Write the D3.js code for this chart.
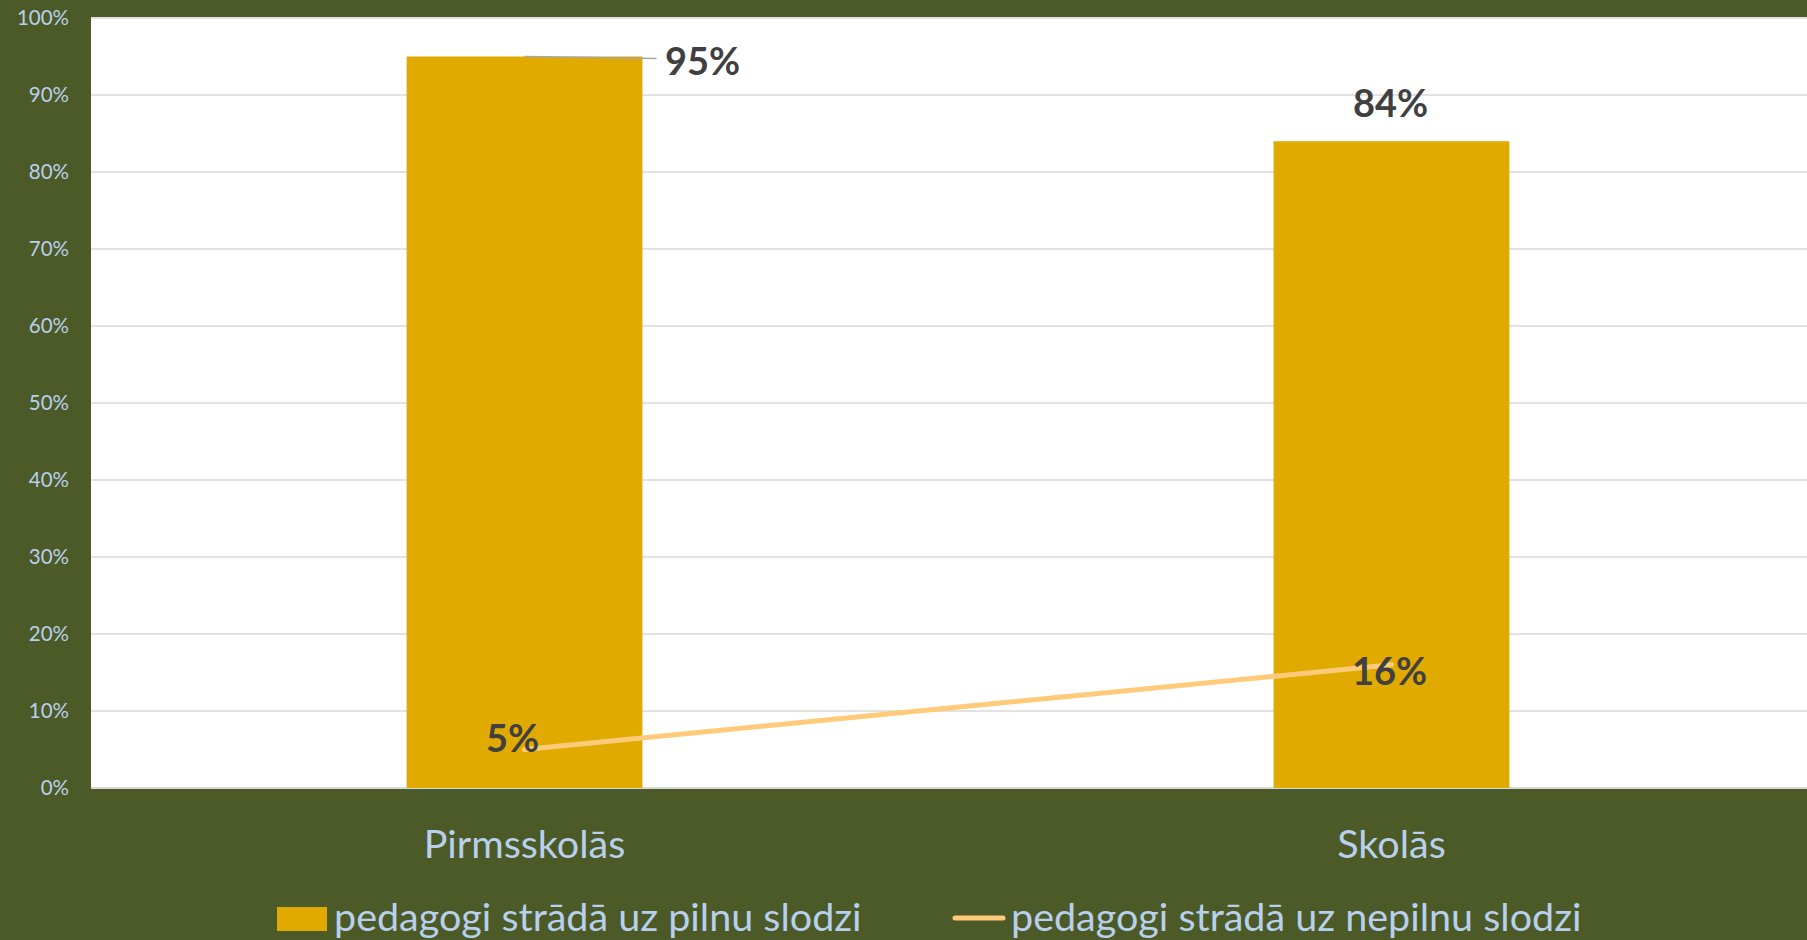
<!DOCTYPE html>
<html>
<head>
<meta charset="utf-8">
<script src="https://cdn.jsdelivr.net/npm/d3@7"></script>
<style>
  html, body { margin: 0; padding: 0; background: #4B5A27; overflow: hidden; }
  svg { display: block; }
  text { font-family: Lato, "Open Sans", sans-serif; }
</style>
</head>
<body>
<div class="chart"></div>
<script>
"use strict";

// data
var categories = ["Pirmsskolās", "Skolās"];
var fullLoad = [0.95, 0.84];     // bars
var partLoad = [0.05, 0.16];     // line
var seriesNames = ["pedagogi strādā uz pilnu slodzi", "pedagogi strādā uz nepilnu slodzi"];
var yTicks = [0, 0.1, 0.2, 0.3, 0.4, 0.5, 0.6, 0.7, 0.8, 0.9, 1];

var W = 1807, H = 940;
var BG = "#4B5A27", BAR = "#E1AA00", LINE = "#FFCA7A", LABEL = "#404040", AXIS_TXT = "#B9D0EC";

// plot area (right side runs past the window edge)
var margin = { top: 18, left: 91 };
var plotRight = 1825, plotBottom = 788;

var svg = d3.select(".chart").append("svg")
    .attr("width", W)
    .attr("height", H);

svg.append("rect").attr("width", W).attr("height", H).attr("fill", BG);

var x = d3.scaleBand()
    .domain(categories)
    .range([margin.left, plotRight])
    .paddingInner(0)
    .paddingOuter(0);

var y = d3.scaleLinear()
    .domain([0, 1])
    .range([plotBottom, margin.top]);

// white plot background
svg.append("rect")
    .attr("x", margin.left)
    .attr("y", margin.top - 1)
    .attr("width", plotRight - margin.left)
    .attr("height", plotBottom - margin.top + 1)
    .attr("fill", "#FFFFFF");

// gridlines
svg.append("g")
    .selectAll("line")
    .data(yTicks)
    .enter()
    .append("line")
    .attr("x1", margin.left)
    .attr("x2", plotRight)
    .attr("y1", d => y(d))
    .attr("y2", d => y(d))
    .attr("stroke", "#D9D9D9")
    .attr("stroke-width", d => d === 0 ? 2 : 1.5);

// y axis labels
var yAxis = d3.axisLeft(y)
    .tickValues(yTicks)
    .tickFormat(d3.format(".0%"))
    .tickSize(0)
    .tickPadding(22);

var gy = svg.append("g")
    .attr("transform", `translate(${margin.left},0)`)
    .call(yAxis);
gy.select(".domain").remove();
gy.selectAll("text")
    .attr("fill", AXIS_TXT)
    .style("font-size", "20.5px")
    .style("font-family", "Lato, sans-serif");

// bars
var barW = x.bandwidth() * 0.272;
var cx = i => x(categories[i]) + x.bandwidth() / 2;

svg.append("g")
    .selectAll("rect")
    .data(fullLoad)
    .enter()
    .append("rect")
    .attr("x", (d, i) => cx(i) - barW / 2)
    .attr("y", d => y(d))
    .attr("width", barW)
    .attr("height", d => y(0) - y(d))
    .attr("fill", BAR);

// line series
var line = d3.line()
    .x((d, i) => cx(i))
    .y(d => y(d));

svg.append("path")
    .datum(partLoad)
    .attr("d", line)
    .attr("fill", "none")
    .attr("stroke", LINE)
    .attr("stroke-width", 5)
    .attr("stroke-linecap", "round");

// leader line for the first bar label
svg.append("path")
    .attr("d", `M${cx(0)},${y(fullLoad[0])} L${cx(0) + 132},${y(fullLoad[0]) + 2}`)
    .attr("stroke", "#A6A6A6")
    .attr("stroke-width", 1.5)
    .attr("fill", "none");

// bar value labels
var barLabelPos = [[178, 18], [-1, -24]];
svg.append("g")
    .selectAll("text")
    .data(fullLoad)
    .enter()
    .append("text")
    .attr("x", (d, i) => cx(i) + barLabelPos[i][0])
    .attr("y", (d, i) => y(d) + barLabelPos[i][1])
    .attr("text-anchor", "middle")
    .attr("fill", LABEL)
    .style("font-size", "38px")
    .style("font-weight", "bold")
    .text(d => d3.format(".0%")(d));

var lineLabelPos = [[-12, 2], [-2, 20]];
svg.append("g")
    .selectAll("text")
    .data(partLoad)
    .enter()
    .append("text")
    .attr("x", (d, i) => cx(i) + lineLabelPos[i][0])
    .attr("y", (d, i) => y(d) + lineLabelPos[i][1])
    .attr("text-anchor", "middle")
    .attr("fill", LABEL)
    .style("font-size", "38px")
    .style("font-weight", "bold")
    .text(d => d3.format(".0%")(d));

// category labels
svg.append("g")
    .selectAll("text")
    .data(categories)
    .enter()
    .append("text")
    .attr("x", (d, i) => cx(i))
    .attr("y", 858)
    .attr("text-anchor", "middle")
    .attr("fill", AXIS_TXT)
    .style("font-size", "39.5px")
    .text(d => d);

// legend
var legend = svg.append("g");
legend.append("rect")
    .attr("x", 277).attr("y", 907)
    .attr("width", 50).attr("height", 24)
    .attr("fill", BAR);
legend.append("text")
    .attr("x", 334).attr("y", 931)
    .attr("fill", AXIS_TXT)
    .style("font-size", "39.5px")
    .text(seriesNames[0]);

legend.append("line")
    .attr("x1", 955).attr("x2", 1003)
    .attr("y1", 918).attr("y2", 918)
    .attr("stroke", LINE)
    .attr("stroke-width", 5)
    .attr("stroke-linecap", "round");
legend.append("text")
    .attr("x", 1011).attr("y", 931)
    .attr("fill", AXIS_TXT)
    .style("font-size", "39.5px")
    .text(seriesNames[1]);
</script>
</body>
</html>
